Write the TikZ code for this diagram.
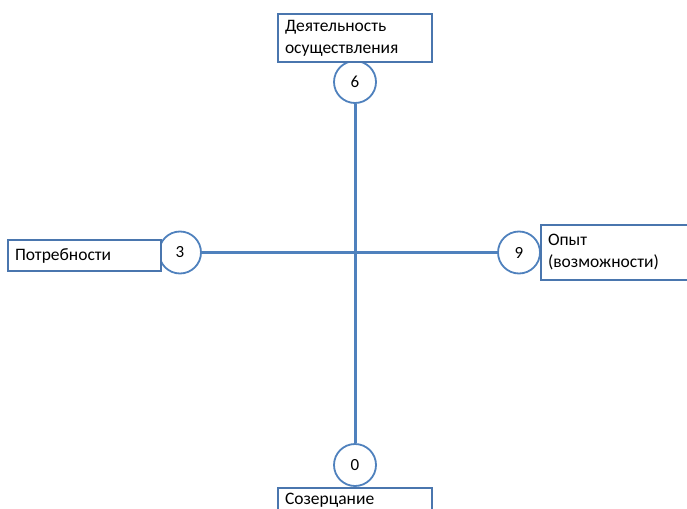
\documentclass[tikz,border=0pt]{standalone}
\usepackage{fontspec}
\setmainfont{Carlito}
\usepackage{xcolor}

\begin{document}
\begin{tikzpicture}[x=1pt,y=-1pt,
  numcirc/.style={circle,draw=axisblue,line width=1.8pt,fill=white,minimum size=42pt,inner sep=0pt,font=\fontsize{17}{20}\selectfont},
  labelbox/.style={rectangle,draw=boxblue,line width=1.8pt,fill=white,align=left,inner xsep=7pt,inner ysep=3pt,font=\fontsize{17.5}{22}\selectfont},
  axis/.style={draw=axisblue,line width=3pt}]
\definecolor{axisblue}{HTML}{4F81BD}
\definecolor{boxblue}{HTML}{4A76AE}
\useasboundingbox (0,0) rectangle (687,508);
% circles
\node [numcirc] (six) at (355,82) {6};
\node [numcirc] (zero) at (355,465) {0};
\node [numcirc] (three) at (180,252.5) {3};
\node [numcirc] (nine) at (519,252.5) {9};
% axes
\draw [axis] (six) -- (zero);
\draw [axis] (three) -- (nine);
% labels
\node [labelbox,text width=140pt,minimum height=48pt] (act) at (355,38) {Деятельность\\осуществления};
\node [labelbox,text width=139pt,minimum height=31pt] (need) at (84.5,255.5) {Потребности};
\node [labelbox,text width=146pt,minimum height=55pt] (exp) at (621,252.5) {Опыт\\(возможности)};
\node [labelbox,text width=140pt,text height=13pt,text depth=20pt,inner ysep=4pt,anchor=north] (cont) at (355,487) {Созерцание};
\end{tikzpicture}
\end{document}
